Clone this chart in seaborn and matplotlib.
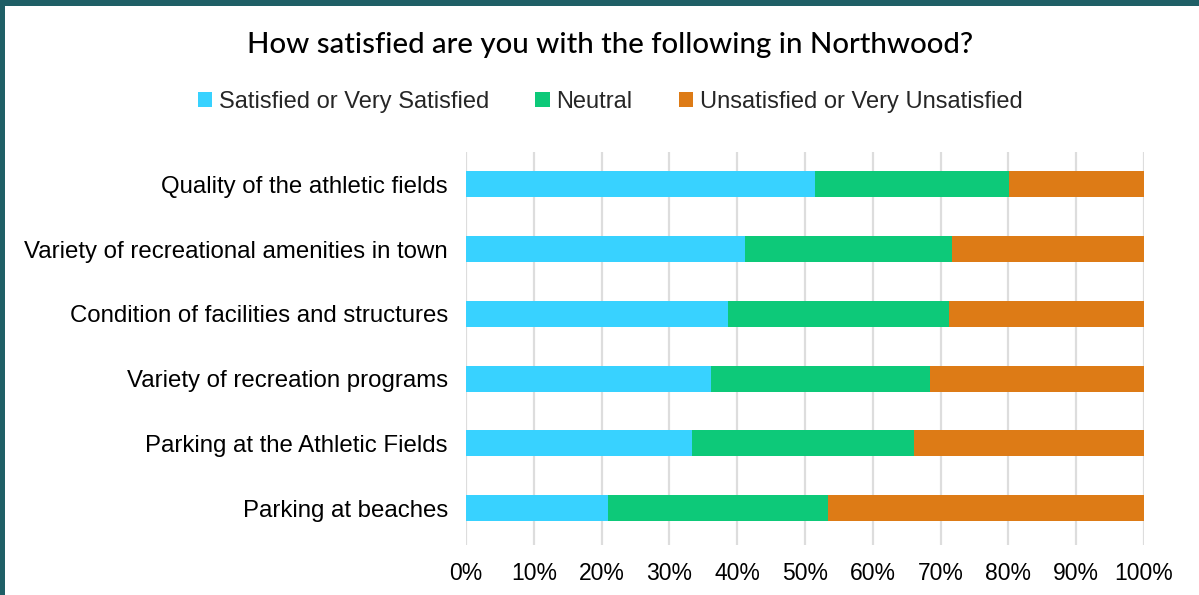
import pandas as pd
import matplotlib.pyplot as plt
import seaborn as sns
from matplotlib.patches import Patch, Rectangle

# ================================
# Data (percent of respondents)
# ================================
items = [
    "Quality of the athletic fields",
    "Variety of recreational amenities in town",
    "Condition of facilities and structures",
    "Variety of recreation programs",
    "Parking at the Athletic Fields",
    "Parking at beaches",
]
satisfied = [51.5, 41.1, 38.7, 36.1, 33.3, 21.0]
neutral = [28.6, 30.5, 32.6, 32.3, 32.7, 32.4]
unsatisfied = [19.9, 28.4, 28.7, 31.6, 34.0, 46.6]
series_names = ["Satisfied or Very Satisfied", "Neutral", "Unsatisfied or Very Unsatisfied"]
colors = ["#38D2FF", "#0DC979", "#DD7B16"]

df = pd.DataFrame({
    "item": items,
    "satisfied": satisfied,
    "neutral": neutral,
    "unsatisfied": unsatisfied,
})
# cumulative ends for stacking (draw longest first)
df["end_sat"] = df["satisfied"]
df["end_neu"] = df["satisfied"] + df["neutral"]
df["end_uns"] = df["end_neu"] + df["unsatisfied"]

# ================================
# Plot
# ================================
sns.set_theme(style="whitegrid")
plt.rcParams["font.family"] = ["Liberation Sans", "DejaVu Sans"]

fig = plt.figure(figsize=(11.99, 5.95), dpi=100)
ax = fig.add_axes([0.3887, 0.084, 0.5655, 0.6605])

for col, color in zip(["end_uns", "end_neu", "end_sat"], colors[::-1]):
    sns.barplot(data=df, x=col, y="item", color=color, width=0.4,
                saturation=1, linewidth=0, ax=ax)

ax.set_xlim(0, 100)
ax.set_ylim(5.57, -0.5)
ax.set_xticks(range(0, 101, 10))
ax.set_xticklabels([f"{v}%" for v in range(0, 101, 10)])
ax.set_xlabel("")
ax.set_ylabel("")
ax.grid(axis="x", color="#DDDDDD", linewidth=1.6)
ax.grid(axis="y", visible=False)
ax.set_axisbelow(True)
for s in ax.spines.values():
    s.set_visible(False)
ax.tick_params(axis="both", length=0, colors="black")
ax.tick_params(axis="x", pad=12, labelsize=16.5)
ax.tick_params(axis="y", pad=13, labelsize=17.3)

fig.text(0.509, 0.924, "How satisfied are you with the following in Northwood?",
         ha="center", va="center", fontsize=21.2, family=["Lato", "DejaVu Sans"],
         weight="medium", color="black")

handles = [Patch(facecolor=c, edgecolor="none", label=n) for c, n in zip(colors, series_names)]
fig.legend(handles=handles, loc="center", bbox_to_anchor=(0.509, 0.829), ncol=3,
           frameon=False, fontsize=17, handlelength=0.6, handleheight=0.6,
           handletextpad=0.3, columnspacing=1.95)

# frame border (top and left)
fig.patches.append(Rectangle((0, 0.99), 1, 0.01, transform=fig.transFigure,
                             facecolor="#1F5F66", edgecolor="none", zorder=10))
fig.patches.append(Rectangle((0, 0), 0.0045, 1, transform=fig.transFigure,
                             facecolor="#1F5F66", edgecolor="none", zorder=10))

plt.savefig("out.png", dpi=100)
plt.close()
